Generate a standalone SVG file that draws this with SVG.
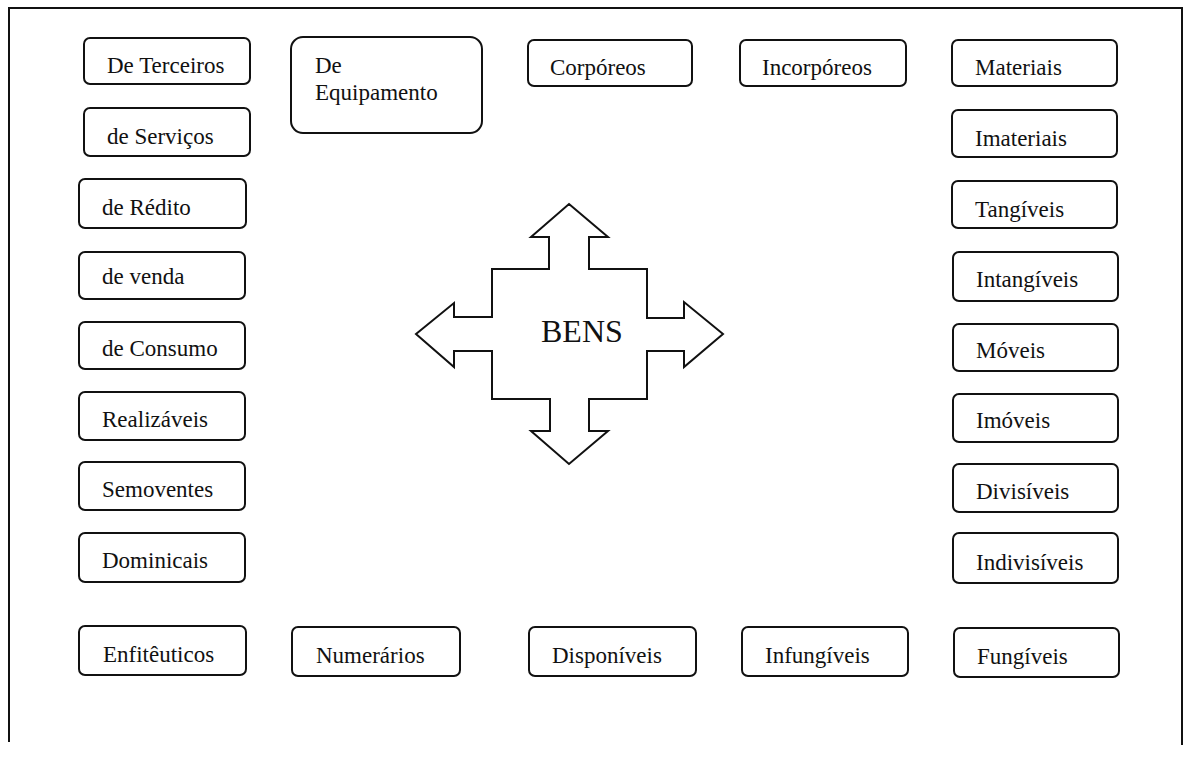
<svg xmlns="http://www.w3.org/2000/svg" width="1189" height="758" viewBox="0 0 1189 758">
<style>
.b{fill:#fff;stroke:#111;stroke-width:2}
.t{font-family:"Liberation Serif","Times New Roman",serif;font-size:23px;fill:#111}
.big{font-family:"Liberation Serif","Times New Roman",serif;font-size:32px;fill:#111}
.f{fill:none;stroke:#111;stroke-width:2}
</style>
<rect width="1189" height="758" fill="#fff"/>
<g id="frame"><path class="f" d="M9 742 V8 H1182 V745"/></g>
<g id="n-terceiros"><rect class="b" x="84" y="38" width="166" height="46" rx="6"/><text class="t" x="107" y="73">De Terceiros</text></g>
<g id="n-equipamento"><rect class="b" x="291" y="37" width="191" height="96" rx="12"/><text class="t" x="315" y="73">De</text><text class="t" x="315" y="100">Equipamento</text></g>
<g id="n-corporeos"><rect class="b" x="528" y="40" width="164" height="46" rx="6"/><text class="t" x="550" y="75">Corpóreos</text></g>
<g id="n-incorporeos"><rect class="b" x="740" y="40" width="166" height="46" rx="6"/><text class="t" x="762" y="75">Incorpóreos</text></g>
<g id="n-materiais"><rect class="b" x="952" y="40" width="165" height="46" rx="6"/><text class="t" x="975" y="75">Materiais</text></g>
<g id="n-servicos"><rect class="b" x="84" y="108" width="166" height="48" rx="6"/><text class="t" x="107" y="144">de Serviços</text></g>
<g id="n-imateriais"><rect class="b" x="952" y="110" width="165" height="47" rx="6"/><text class="t" x="975" y="146">Imateriais</text></g>
<g id="n-redito"><rect class="b" x="79" y="179" width="167" height="49" rx="6"/><text class="t" x="102" y="215">de Rédito</text></g>
<g id="n-tangiveis"><rect class="b" x="952" y="181" width="165" height="47" rx="6"/><text class="t" x="975" y="217">Tangíveis</text></g>
<g id="n-venda"><rect class="b" x="79" y="252" width="166" height="47" rx="6"/><text class="t" x="102" y="284">de venda</text></g>
<g id="n-intangiveis"><rect class="b" x="953" y="252" width="165" height="49" rx="6"/><text class="t" x="976" y="287">Intangíveis</text></g>
<g id="n-consumo"><rect class="b" x="79" y="322" width="166" height="47" rx="6"/><text class="t" x="102" y="356">de Consumo</text></g>
<g id="n-moveis"><rect class="b" x="953" y="324" width="165" height="47" rx="6"/><text class="t" x="976" y="358">Móveis</text></g>
<g id="n-realizaveis"><rect class="b" x="79" y="392" width="166" height="48" rx="6"/><text class="t" x="102" y="427">Realizáveis</text></g>
<g id="n-imoveis"><rect class="b" x="953" y="394" width="165" height="48" rx="6"/><text class="t" x="976" y="428">Imóveis</text></g>
<g id="n-semoventes"><rect class="b" x="79" y="462" width="166" height="48" rx="6"/><text class="t" x="102" y="497">Semoventes</text></g>
<g id="n-divisiveis"><rect class="b" x="953" y="464" width="165" height="48" rx="6"/><text class="t" x="976" y="499">Divisíveis</text></g>
<g id="n-dominicais"><rect class="b" x="79" y="533" width="166" height="49" rx="6"/><text class="t" x="102" y="568">Dominicais</text></g>
<g id="n-indivisiveis"><rect class="b" x="953" y="533" width="165" height="50" rx="6"/><text class="t" x="976" y="570">Indivisíveis</text></g>
<g id="n-enfiteuticos"><rect class="b" x="79" y="626" width="167" height="49" rx="6"/><text class="t" x="103" y="662">Enfitêuticos</text></g>
<g id="n-numerarios"><rect class="b" x="292" y="627" width="168" height="49" rx="6"/><text class="t" x="316" y="663">Numerários</text></g>
<g id="n-disponiveis"><rect class="b" x="529" y="627" width="167" height="49" rx="6"/><text class="t" x="552" y="663">Disponíveis</text></g>
<g id="n-infungiveis"><rect class="b" x="742" y="627" width="166" height="49" rx="6"/><text class="t" x="765" y="663">Infungíveis</text></g>
<g id="n-fungiveis"><rect class="b" x="954" y="628" width="165" height="49" rx="6"/><text class="t" x="977" y="664">Fungíveis</text></g>
<g id="n-bens">
<path class="b" d="M569 204 L608 237 H589 V269 H647 V318 H684 V302 L723 334 L684 367 V351 H647 V399 H589 V431 H608 L569 464 L531 431 H550 V399 H492 V351 H454 V367 L416 334 L454 303 V317 H492 V269 H549 V237 H531 Z"/>
<text class="big" x="541" y="342">BENS</text>
</g>
<g id="connectors"></g>
</svg>
